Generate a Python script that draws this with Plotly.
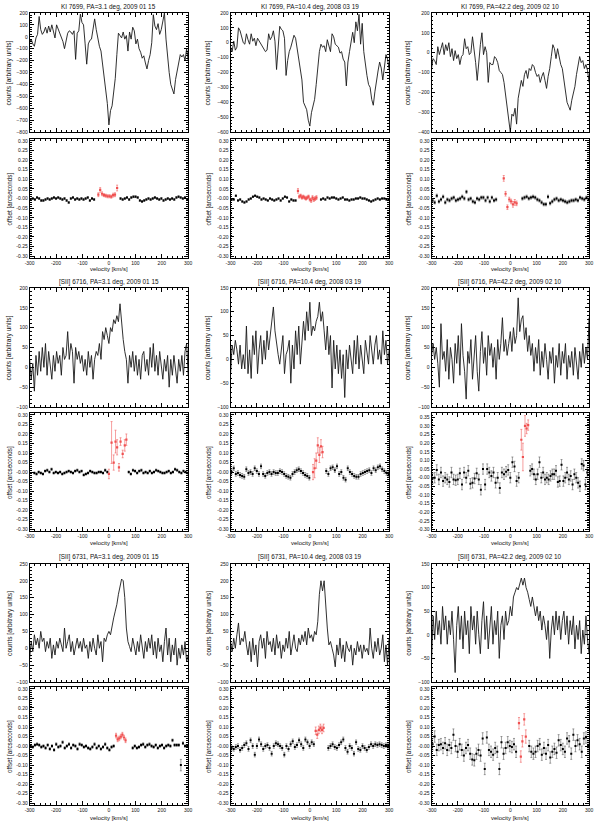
import numpy as np
import plotly.graph_objects as go

# ---------------- DATA ----------------
titles = [
    "KI 7699, PA=3.1 deg, 2009 01 15", "KI 7699, PA=10.4 deg, 2008 03 19", "KI 7699, PA=42.2 deg, 2009 02 10",
    "[SII] 6716, PA=3.1 deg, 2009 01 15", "[SII] 6716, PA=10.4 deg, 2008 03 19", "[SII] 6716, PA=42.2 deg, 2009 02 10",
    "[SII] 6731, PA=3.1 deg, 2009 01 15", "[SII] 6731, PA=10.4 deg, 2008 03 19", "[SII] 6731, PA=42.2 deg, 2009 02 10",
]
velocity_ticks = [-300, -200, -100, 0, 100, 200, 300]
offset_tick_vals = [-0.30, -0.25, -0.20, -0.15, -0.10, -0.05, 0.0, 0.05, 0.10, 0.15, 0.20, 0.25, 0.30, 0.35]
offset_tick_labels = ["-0.30", "-0.25", "-0.20", "-0.15", "-0.10", "-0.05", "-0.00", "0.05", "0.10", "0.15", "0.20", "0.25", "0.30", "0.35"]

# counts spectra, sampled evenly from -300 to +300 km/s
ki7699_pa3_counts = [-50, -20, -60, -80, -10, 20, 170, 60, 20, 40, 80, 30, 90, 40, 100, 30, -10, 100, 60, 20,
    -20, -40, -100, -20, 30, 50, 40, 20, 50, -190, 30, 50, 190, 120, 100, -60, -230, -60, -30, -20,
    60, 150, 60, -20, -80, -120, -220, -330, -450, -560, -740, -620, -580, -480, -350, -150, 30, 10, -10, 40,
    -20, 10, -120, 40, -20, 80, 50, -60, -20, -100, -130, -180, -160, -220, -270, -200, -150, -50, 185, 90,
    60, 110, 20, 60, 120, 200, -20, -200, -300, -400, -450, -480, -360, -290, -220, -150, -170, -150, -200, -100, -200]
ki7699_pa10_counts = [-30, -60, 10, -50, -30, 100, 80, 40, 0, -10, 60, 20, -10, 60, 10, 30, -20, 30, 10, -10,
    -20, -40, -60, -50, 60, 20, 40, 80, 10, -180, 10, 110, 90, 80, 30, -220, -120, -60, -30, 10,
    50, 30, -40, -100, -170, -250, -400, -430, -450, -520, -560, -470, -420, -380, -280, -150, -60, -10, -30, -20,
    -60, 20, -20, -60, 60, 40, -10, -20, -30, -70, -60, -110, -130, -290, -130, -60, 20, 70, 0, 140,
    80, 190, -10, 130, -60, -150, -220, -280, -300, -380, -420, -330, -250, -190, -130, -170, -250, -150, -80, -110, -180]
ki7699_pa42_counts = [-80, -30, -40, -60, 30, -10, 20, 50, -10, 40, 10, 50, -20, 20, -40, 10, -30, -10, -60, -20,
    -10, 70, 20, 30, -10, 0, 80, 20, -50, -140, -40, 40, 100, -10, 30, 0, -150, -50, -60, -60,
    -20, -30, -50, -90, -100, -110, -150, -220, -290, -330, -400, -310, -320, -280, -360, -230, -190, -140, -170, -110,
    -90, -130, -80, -90, -60, -70, -100, -120, -110, -150, -120, -100, -140, -180, -120, -80, -20, 40, 20, -30,
    20, -30, -60, -80, -130, -180, -250, -270, -290, -240, -200, -170, -110, -60, -20, -50, -40, -80, -60, -90, -150]
sii6716_pa3_counts = [20, -30, 10, -60, 30, -20, 40, -10, 50, 0, 60, -20, 40, 10, -30, 30, -10, 40, 10, 30,
    -20, 50, 20, 30, 90, 20, 60, 40, -40, 50, 20, 40, 10, 30, -10, 20, -20, 40, 0, 30,
    -30, 20, 40, 30, 60, 20, 90, 70, 100, 80, 60, 100, 90, 120, 110, 130, 115, 160, 110, 70,
    40, 20, -40, 30, 0, 40, -10, 30, -20, 20, -30, 30, 40, -10, 20, -20, 50, 0, 60, -10,
    30, -20, 40, 10, -30, 20, -10, 30, -50, 20, -20, 30, 0, -40, 20, -10, 30, -20, 40, 60, -20]
sii6716_pa10_counts = [-30, 30, 10, 40, 20, -10, 30, -20, 10, -20, 70, -30, 20, -40, 50, 10, 60, -30, 20, 50,
    -10, 40, 0, 60, 20, 50, 80, 110, 60, 30, 10, -10, 20, 50, -30, 10, 20, 40, -50, 30,
    -20, 60, 10, 70, -10, 30, 80, 40, 100, 60, 120, 50, 70, 60, 80, 90, 120, 80, 100, 60,
    20, 70, 10, 50, -60, 40, -20, 30, -30, 20, -40, 10, -80, 20, -20, 30, 0, -30, 40, -10,
    50, -20, 30, 0, -30, 40, 10, -10, 50, 20, -10, 30, 50, 0, 20, -10, 60, 10, 40, -10, 20]
sii6716_pa42_counts = [30, 60, 20, 50, 10, -50, 110, 20, 40, -10, 70, -30, 50, 20, -40, 60, 10, 80, -20, 110,
    30, -10, -80, 40, 10, 70, -30, 30, 80, -10, -60, 40, 90, 10, 50, -20, 80, 30, 60, 0,
    50, -30, 70, 20, 60, 125, 40, 70, 30, 60, 90, 40, 100, 60, 80, 175, 90, 120, 130, 70,
    100, 40, 80, 30, 60, -10, 50, 10, 70, -20, 40, 0, 60, 20, -30, 40, 10, 50, -40, 30,
    0, 60, -20, 40, 10, 60, -30, 30, 0, 40, -20, 50, 10, -30, 40, 0, 60, 10, 50, 20, 125]
sii6731_pa3_counts = [-30, 20, -10, 40, 10, 30, 0, 50, 20, 30, -10, 20, 0, 30, -30, 10, -20, 20, 0, 30,
    10, -10, 60, 0, 20, 40, -10, 20, -20, 10, 30, 0, 20, -10, 30, 0, 10, -30, 20, -10,
    30, 0, -20, 40, 0, 20, -40, 30, 20, 40, 50, 40, 70, 90, 110, 130, 160, 185, 205, 200,
    150, 60, 20, 5, -10, 30, 0, -20, 20, -10, 40, 0, -30, 20, -10, 30, 0, 40, -20, 20,
    -30, 30, -10, 10, -40, 20, 60, -20, 30, -40, 10, -20, 30, -50, 0, -30, 10, -20, 20, -40, -20]
sii6731_pa10_counts = [20, -10, 30, 0, 40, 75, 10, 30, 20, 50, 10, -20, 20, -40, 30, -20, 10, -55, 20, 40,
    0, 30, -30, 50, 10, 20, -10, 30, -20, 40, 0, 20, -30, 10, -10, 30, 0, 50, -20, 10,
    40, 0, -10, 30, 10, 40, 20, 50, 10, 60, 30, 40, 20, 50, 40, 80, 160, 200, 170, 200,
    120, 60, 10, 20, 0, -20, -55, 10, -20, 30, -30, 10, -40, 20, 0, -10, 10, -50, 0, -20,
    20, -10, 10, -30, 10, -10, 0, -20, 60, 0, -30, 20, -10, 30, -20, 0, 40, -40, 10, -50, 30]
sii6731_pa42_counts = [-60, 40, -10, 50, 0, 30, -20, 60, 10, 40, -20, 30, 0, 50, -10, -80, 20, 60, -10, 40,
    -30, 50, 0, 30, -40, 60, 10, 40, -20, 50, 0, -40, 30, 70, -10, 40, -30, 20, 60, -20,
    30, 0, 50, -50, 20, 40, -10, 50, 20, 30, 60, 40, 80, 90, 100, 95, 110, 120, 105, 120,
    100, 90, 75, 60, 80, 55, 40, 60, 30, 50, 10, 40, 20, -10, 30, -50, 10, 40, 0, 50,
    10, 40, -10, 30, 50, 0, 40, -20, 30, 0, 40, -30, 20, -10, 30, -40, 10, -20, 40, -10, -40]

spectra = [ki7699_pa3_counts, ki7699_pa10_counts, ki7699_pa42_counts,
           sii6716_pa3_counts, sii6716_pa10_counts, sii6716_pa42_counts,
           sii6731_pa3_counts, sii6731_pa10_counts, sii6731_pa42_counts]
spectra_ranges = [[-800, 200], [-600, 200], [-400, 200],
                  [-100, 200], [-100, 150], [-100, 200],
                  [-100, 250], [-100, 250], [-100, 150]]
spectra_dtick = [100, 100, 100, 50, 50, 50, 50, 50, 50]

# offsets: black points (two velocity spans), red points with errors
ki7699_pa3_black_spans = [(-296, -56), (44, 296)]
ki7699_pa3_black = [[-0.005, 0.0, -0.005, 0.005, 0.0, -0.01, -0.01, -0.005, 0.0, -0.005, 0.0, 0.005, 0.0, 0.005, 0.0, -0.005,
                     0.0, -0.01, -0.02, 0.0, 0.005, -0.005, 0.0, -0.005, 0.0, -0.005, 0.0, 0.005, -0.01, 0.0, -0.005],
                    [0.0, -0.005, 0.0, 0.005, -0.005, 0.005, 0.01, 0.01, 0.005, -0.01, -0.015, -0.01, -0.005, 0.0, -0.005, 0.0,
                     0.005, 0.0, -0.005, 0.0, -0.01, -0.005, 0.0, -0.005, 0.0, -0.005, 0.005, 0.01, 0.005, 0.0, 0.005, -0.005]]
ki7699_pa3_black_err = 0.005
ki7699_pa3_red_v = [-40, -33, -26, -19, -12, -5, 2, 9, 16, 23, 31]
ki7699_pa3_red = [0.02, 0.045, 0.025, 0.018, 0.015, 0.012, 0.012, 0.01, 0.018, 0.02, 0.055]
ki7699_pa3_red_err = [0.01, 0.012, 0.01, 0.008, 0.008, 0.008, 0.008, 0.008, 0.01, 0.01, 0.015]

ki7699_pa10_black_spans = [(-296, -54), (42, 298)]
ki7699_pa10_black = [[-0.005, -0.005, 0.015, -0.01, -0.005, -0.015, -0.02, -0.015, -0.005, 0.0, 0.01, 0.015, 0.01, 0.005, -0.005, 0.0,
                      -0.005, -0.01, 0.0, -0.005, -0.01, -0.005, 0.0, -0.01, 0.0, 0.01, 0.005, -0.015, -0.005, -0.01, -0.01],
                     [-0.005, 0.0, -0.005, 0.005, 0.0, 0.005, 0.005, 0.0, -0.005, 0.0, 0.005, -0.005, -0.005, -0.01, -0.005, -0.005,
                      0.0, 0.0, 0.005, 0.0, 0.0, -0.005, -0.01, -0.015, -0.01, -0.005, 0.0, -0.005, 0.0, 0.0, -0.005, -0.005]]
ki7699_pa10_black_err = 0.004
ki7699_pa10_red_v = [-45, -40, -35, -30, -25, -20, -15, -10, -5, 0, 5, 10, 15, 20, 25]
ki7699_pa10_red = [0.04, 0.01, 0.015, 0.005, 0.01, 0.005, 0.0, 0.005, 0.01, -0.005, -0.01, 0.005, -0.005, 0.0, 0.005]
ki7699_pa10_red_err = [0.012, 0.008, 0.008, 0.008, 0.008, 0.008, 0.008, 0.008, 0.008, 0.008, 0.01, 0.01, 0.01, 0.01, 0.01]

ki7699_pa42_black_spans = [(-296, -54), (46, 298)]
ki7699_pa42_black = [[-0.01, -0.02, 0.015, -0.015, -0.005, 0.01, -0.02, -0.005, -0.01, 0.0, 0.005, -0.01, -0.005, 0.0, 0.01, 0.0,
                      0.035, -0.005, 0.0, -0.015, -0.02, 0.0, -0.005, 0.005, 0.005, -0.01, 0.005, -0.015, 0.005, -0.01, -0.005],
                     [0.0, 0.005, 0.01, 0.0, 0.005, 0.01, 0.005, -0.005, -0.01, -0.02, -0.03, -0.03, 0.01, -0.025, -0.015, -0.005,
                      0.0, -0.01, -0.005, -0.01, -0.015, -0.02, -0.015, -0.01, -0.01, -0.005, -0.01, 0.005, 0.0, -0.005, 0.005, -0.005]]
ki7699_pa42_black_err = 0.008
ki7699_pa42_red_v = [-25, -18, -11, -4, 3, 10, 17, 24]
ki7699_pa42_red = [0.105, 0.025, -0.045, -0.005, -0.015, -0.03, -0.02, -0.025]
ki7699_pa42_red_err = [0.015, 0.012, 0.012, 0.012, 0.012, 0.015, 0.015, 0.012]

sii6716_pa3_black_spans = [(-282, -6), (75, 298)]
sii6716_pa3_black = [[-0.005, -0.01, 0.0, -0.005, -0.01, 0.005, 0.01, 0.0, 0.015, -0.005, 0.0, -0.005, 0.0, -0.01, -0.005, 0.0,
                      0.005, 0.0, -0.005, 0.005, 0.01, 0.0, 0.005, -0.015, -0.01, -0.005, 0.005, 0.0, -0.005, -0.005, 0.0,
                      0.0, -0.005, 0.01, 0.0],
                     [0.0, -0.01, 0.01, 0.005, -0.005, 0.005, 0.01, -0.005, 0.0, -0.005, 0.005, -0.005, 0.0, 0.01, 0.005,
                      0.0, -0.005, -0.005, 0.0, 0.005, -0.005, 0.0, 0.015, 0.01, 0.0, -0.005, 0.005, 0.0, -0.005]]
sii6716_pa3_black_err = 0.006
sii6716_pa3_red_v = [0, 10, 18, 25, 31, 38, 44, 52, 60, 66]
sii6716_pa3_red = [-0.01, 0.155, 0.05, 0.16, 0.13, 0.025, 0.16, 0.095, 0.14, 0.17]
sii6716_pa3_red_err = [0.025, 0.11, 0.04, 0.06, 0.04, 0.02, 0.02, 0.02, 0.03, 0.03]

sii6716_pa10_black_spans = [(-296, -2), (62, 298)]
sii6716_pa10_black = [[0.0, 0.02, -0.01, -0.005, -0.015, -0.02, -0.025, 0.015, -0.005, 0.0, -0.01, 0.02, 0.005, -0.01, 0.03, -0.01,
                       -0.02, -0.005, 0.0, -0.01, 0.0, -0.005, -0.005, 0.005, 0.0, -0.01, -0.02, -0.025, -0.03, -0.01, 0.0,
                       0.01, 0.015, 0.005, -0.005, -0.015, -0.02, -0.03],
                      [0.005, -0.01, 0.02, 0.025, 0.01, 0.03, -0.01, 0.0, -0.03, -0.04, 0.02, 0.0, -0.01, -0.02, -0.025,
                       -0.025, -0.01, -0.005, 0.0, 0.005, 0.01, -0.005, 0.02, 0.01, 0.025, 0.03, 0.015, 0.005, -0.005, -0.01]]
sii6716_pa10_black_err = 0.012
sii6716_pa10_red_v = [12, 18, 24, 30, 36, 42, 48]
sii6716_pa10_red = [0.0, 0.02, 0.06, 0.14, 0.09, 0.135, 0.105]
sii6716_pa10_red_err = [0.04, 0.05, 0.04, 0.04, 0.04, 0.035, 0.03]

sii6716_pa42_black_spans = [(-296, 32), (76, 293)]
sii6716_pa42_black = [[-0.005, 0.0, 0.045, -0.01, 0.03, -0.02, 0.0, -0.01, -0.025, 0.03, -0.01, -0.015, -0.01, 0.025, -0.04,
                       0.03, 0.0, 0.04, -0.035, -0.03, -0.005, 0.025, -0.01, -0.07, 0.05, -0.04, 0.05, 0.03, 0.01, 0.03,
                       -0.03, 0.0, -0.06, 0.03, 0.02, 0.035, 0.045, 0.0, 0.09, 0.065, -0.02, 0.0],
                      [0.04, 0.05, 0.02, -0.01, 0.02, 0.09, 0.0, 0.03, -0.01, 0.0, -0.01, 0.01, 0.02, 0.02, 0.04, -0.025,
                       -0.02, 0.075, -0.02, 0.0, 0.03, -0.01, 0.01, -0.04, 0.02, 0.0, -0.03, -0.05, 0.08, 0.07, -0.04, 0.03]]
sii6716_pa42_black_err = 0.03
sii6716_pa42_red_v = [42, 48, 56, 62, 68]
sii6716_pa42_red = [0.22, 0.12, 0.30, 0.285, 0.305]
sii6716_pa42_red_err = [0.06, 0.08, 0.06, 0.03, 0.03]

sii6731_pa3_black_spans = [(-296, 18), (90, 296)]
sii6731_pa3_black = [[0.0, -0.005, 0.005, 0.01, 0.005, -0.005, 0.0, -0.01, 0.005, -0.015, 0.0, -0.02, 0.01, -0.005, 0.0, 0.02,
                      -0.01, 0.0, 0.01, -0.01, 0.005, 0.0, -0.015, 0.01, 0.005, -0.005, 0.0, -0.01, -0.015, -0.005, 0.01,
                      -0.01, 0.0, -0.015, -0.005, 0.01, -0.01, -0.02, -0.005, 0.0],
                     [-0.01, 0.0, -0.01, -0.005, 0.005, 0.01, -0.005, 0.005, 0.01, 0.0, -0.005, 0.005, -0.01, 0.0, 0.005,
                      -0.01, 0.0, 0.005, 0.0, 0.03, 0.005, 0.005, 0.005, -0.10, 0.015, 0.0, 0.0]]
sii6731_pa3_black_err = 0.007
sii6731_pa3_red_v = [27, 33, 39, 45, 51, 57, 63]
sii6731_pa3_red = [0.055, 0.035, 0.04, 0.05, 0.06, 0.045, 0.03]
sii6731_pa3_red_err = [0.012, 0.012, 0.012, 0.012, 0.012, 0.012, 0.012]

sii6731_pa10_black_spans = [(-296, 15), (70, 296)]
sii6731_pa10_black = [[-0.01, -0.015, -0.005, 0.0, -0.02, -0.01, 0.005, 0.015, -0.015, 0.03, 0.0, -0.045, 0.0, 0.035, 0.01,
                       -0.015, 0.0, 0.005, -0.01, -0.04, 0.0, 0.015, 0.01, 0.0, -0.01, -0.045, 0.0, -0.015, 0.01, 0.025,
                       -0.005, 0.005, 0.03, 0.01, -0.01, 0.035, 0.02, 0.0, 0.02, 0.01],
                      [-0.01, 0.0, 0.01, -0.005, -0.01, 0.005, 0.02, 0.035, -0.01, -0.03, 0.0, -0.01, -0.04, 0.02, -0.015,
                       -0.02, 0.0, -0.01, -0.02, -0.005, 0.01, 0.0, 0.01, 0.005, 0.01, 0.005, 0.0, 0.005, 0.0]]
sii6731_pa10_black_err = 0.012
sii6731_pa10_red_v = [22, 28, 34, 40, 46, 52]
sii6731_pa10_red = [0.08, 0.06, 0.085, 0.095, 0.085, 0.095]
sii6731_pa10_red_err = [0.02, 0.02, 0.02, 0.02, 0.02, 0.02]

sii6731_pa42_black_spans = [(-296, 22), (72, 296)]
sii6731_pa42_black = [[0.01, 0.05, -0.02, 0.005, 0.01, -0.01, 0.015, -0.02, 0.005, -0.01, 0.06, 0.0, -0.03, 0.01, -0.02, -0.05,
                       -0.01, 0.005, -0.04, -0.07, -0.075, -0.04, -0.02, -0.05, 0.04, -0.12, 0.045, -0.02, -0.03, -0.045,
                       -0.01, -0.03, -0.12, 0.02, -0.04, -0.01, 0.02, 0.0, -0.005, 0.01, -0.03],
                      [0.0, -0.03, -0.04, -0.03, 0.0, 0.01, -0.045, -0.01, -0.04, 0.005, -0.06, -0.03, -0.015, -0.035, 0.03,
                       0.005, -0.015, -0.03, 0.04, 0.025, -0.04, 0.06, 0.0, 0.03, 0.01, -0.03, 0.04, 0.045, 0.0]]
sii6731_pa42_black_err = 0.03
sii6731_pa42_red_v = [33, 40, 46, 53, 59]
sii6731_pa42_red = [0.12, -0.055, 0.025, 0.14, 0.05]
sii6731_pa42_red_err = [0.03, 0.03, 0.03, 0.03, 0.035]

offsets = [
    (ki7699_pa3_black_spans, ki7699_pa3_black, ki7699_pa3_black_err, ki7699_pa3_red_v, ki7699_pa3_red, ki7699_pa3_red_err),
    (ki7699_pa10_black_spans, ki7699_pa10_black, ki7699_pa10_black_err, ki7699_pa10_red_v, ki7699_pa10_red, ki7699_pa10_red_err),
    (ki7699_pa42_black_spans, ki7699_pa42_black, ki7699_pa42_black_err, ki7699_pa42_red_v, ki7699_pa42_red, ki7699_pa42_red_err),
    (sii6716_pa3_black_spans, sii6716_pa3_black, sii6716_pa3_black_err, sii6716_pa3_red_v, sii6716_pa3_red, sii6716_pa3_red_err),
    (sii6716_pa10_black_spans, sii6716_pa10_black, sii6716_pa10_black_err, sii6716_pa10_red_v, sii6716_pa10_red, sii6716_pa10_red_err),
    (sii6716_pa42_black_spans, sii6716_pa42_black, sii6716_pa42_black_err, sii6716_pa42_red_v, sii6716_pa42_red, sii6716_pa42_red_err),
    (sii6731_pa3_black_spans, sii6731_pa3_black, sii6731_pa3_black_err, sii6731_pa3_red_v, sii6731_pa3_red, sii6731_pa3_red_err),
    (sii6731_pa10_black_spans, sii6731_pa10_black, sii6731_pa10_black_err, sii6731_pa10_red_v, sii6731_pa10_red, sii6731_pa10_red_err),
    (sii6731_pa42_black_spans, sii6731_pa42_black, sii6731_pa42_black_err, sii6731_pa42_red_v, sii6731_pa42_red, sii6731_pa42_red_err),
]
offset_ranges = [[-0.31, 0.31]] * 5 + [[-0.31, 0.375]] + [[-0.31, 0.31]] * 3

# ---------------- LAYOUT ----------------
W, H = 600, 826
FONT = "Liberation Sans"
TXT = "#111111"
col_px = [(25, 186), (229, 390), (433, 593)]
row_px = [((10, 130), (137, 257)), ((287, 407), (413, 532)), ((565, 684), (689, 808))]
title_py = [4, 281, 558]
vel_label_py = [268, 544, 821]
ytitle_px = [5, 207, 410]


def xd(a, b):
    return [a / W, b / W]


def yd(top, bot):
    return [1 - bot / H, 1 - top / H]


fig = go.Figure()
layout = dict(width=W, height=H, margin=dict(l=0, r=0, t=0, b=0), showlegend=False,
              paper_bgcolor="white", plot_bgcolor="white", annotations=[])

axis_common = dict(showline=True, linecolor="black", linewidth=0.8, mirror="allticks",
                   ticks="inside", ticklen=4, tickwidth=0.6, tickcolor="black",
                   showgrid=False, zeroline=False,
                   tickfont=dict(family=FONT, size=5, color=TXT))

for r in range(3):
    for c in range(3):
        p = r * 3 + c
        ks = 2 * p + 1
        ko = 2 * p + 2
        (st, sb), (ot, ob) = row_px[r]
        xa, xb = col_px[c]

        # spectrum
        vals = spectra[p]
        v = np.linspace(-300, 300, len(vals))
        fig.add_trace(go.Scatter(x=v, y=vals, mode="lines", line=dict(color="#1a1a1a", width=0.9),
                                 xaxis=f"x{ks}", yaxis=f"y{ks}", hoverinfo="skip"))
        dt = spectra_dtick[p]
        lo, hi = spectra_ranges[p]
        layout[f"xaxis{ks}"] = dict(axis_common, domain=xd(xa, xb), anchor=f"y{ks}", range=[-300, 300],
                                    tickvals=velocity_ticks, showticklabels=False,
                                    minor=dict(ticks="inside", ticklen=2, tickwidth=0.5, tickcolor="black", dtick=20, tick0=0))
        layout[f"yaxis{ks}"] = dict(axis_common, domain=yd(st, sb), anchor=f"x{ks}", range=[lo, hi],
                                    tickmode="linear", tick0=lo, dtick=dt,
                                    minor=dict(ticks="inside", ticklen=2, tickwidth=0.5, tickcolor="black",
                                               dtick=dt / 5, tick0=lo))

        # offsets
        spans, blacks, berr, rv, rvals, rerr = offsets[p]
        for (a, b), seg in zip(spans, blacks):
            bv = np.linspace(a, b, len(seg))
            errs = [berr] * len(seg)
            errs = [0.03 if abs(val) >= 0.1 and berr < 0.02 else e for val, e in zip(seg, errs)]
            fig.add_trace(go.Scatter(x=bv, y=seg, mode="markers",
                                     marker=dict(color="black", size=2.0, symbol="square"),
                                     error_y=dict(type="data", array=errs, color="#444444", thickness=0.5, width=1),
                                     xaxis=f"x{ko}", yaxis=f"y{ko}", hoverinfo="skip"))
        fig.add_trace(go.Scatter(x=rv, y=rvals, mode="markers",
                                 marker=dict(color="#f05050", size=2.2, symbol="square"),
                                 error_y=dict(type="data", array=rerr, color="#f06060", thickness=0.6, width=1),
                                 xaxis=f"x{ko}", yaxis=f"y{ko}", hoverinfo="skip"))
        olo, ohi = offset_ranges[p]
        tv = [t for t in offset_tick_vals if olo <= t <= ohi]
        tt = [offset_tick_labels[i] for i, t in enumerate(offset_tick_vals) if olo <= t <= ohi]
        layout[f"xaxis{ko}"] = dict(axis_common, domain=xd(xa, xb), anchor=f"y{ko}", range=[-300, 300],
                                    tickvals=velocity_ticks, ticktext=[str(t) for t in velocity_ticks],
                                    minor=dict(ticks="inside", ticklen=2, tickwidth=0.5, tickcolor="black", dtick=20, tick0=0))
        layout[f"yaxis{ko}"] = dict(axis_common, domain=yd(ot, ob), anchor=f"x{ko}", range=[olo, ohi],
                                    tickvals=tv, ticktext=tt,
                                    minor=dict(ticks="inside", ticklen=2, tickwidth=0.5, tickcolor="black",
                                               dtick=0.01, tick0=0))

        # texts
        xc = (xa + xb) / 2 / W
        layout["annotations"].append(dict(text=titles[p], x=xc, y=1 - title_py[r] / H, xref="paper", yref="paper",
                                          showarrow=False, xanchor="center", yanchor="middle",
                                          font=dict(family=FONT, size=6.4, color=TXT)))
        layout["annotations"].append(dict(text="velocity [km/s]", x=xc, y=1 - vel_label_py[r] / H,
                                          xref="paper", yref="paper", showarrow=False, xanchor="center",
                                          yanchor="middle", font=dict(family=FONT, size=6, color=TXT)))
        layout["annotations"].append(dict(text="counts [arbitrary units]", x=ytitle_px[c] / W,
                                          y=1 - (st + sb) / 2 / H, xref="paper", yref="paper", showarrow=False,
                                          textangle=-90, xanchor="center", yanchor="middle",
                                          font=dict(family=FONT, size=6.6, color=TXT)))
        layout["annotations"].append(dict(text="offset [arcseconds]", x=ytitle_px[c] / W,
                                          y=1 - (ot + ob) / 2 / H, xref="paper", yref="paper", showarrow=False,
                                          textangle=-90, xanchor="center", yanchor="middle",
                                          font=dict(family=FONT, size=6.3, color=TXT)))

fig.update_layout(**layout)
fig.write_html("out.html", config={"displayModeBar": False},
               post_script="document.body.style.margin='0px';document.body.style.overflow='hidden';")
